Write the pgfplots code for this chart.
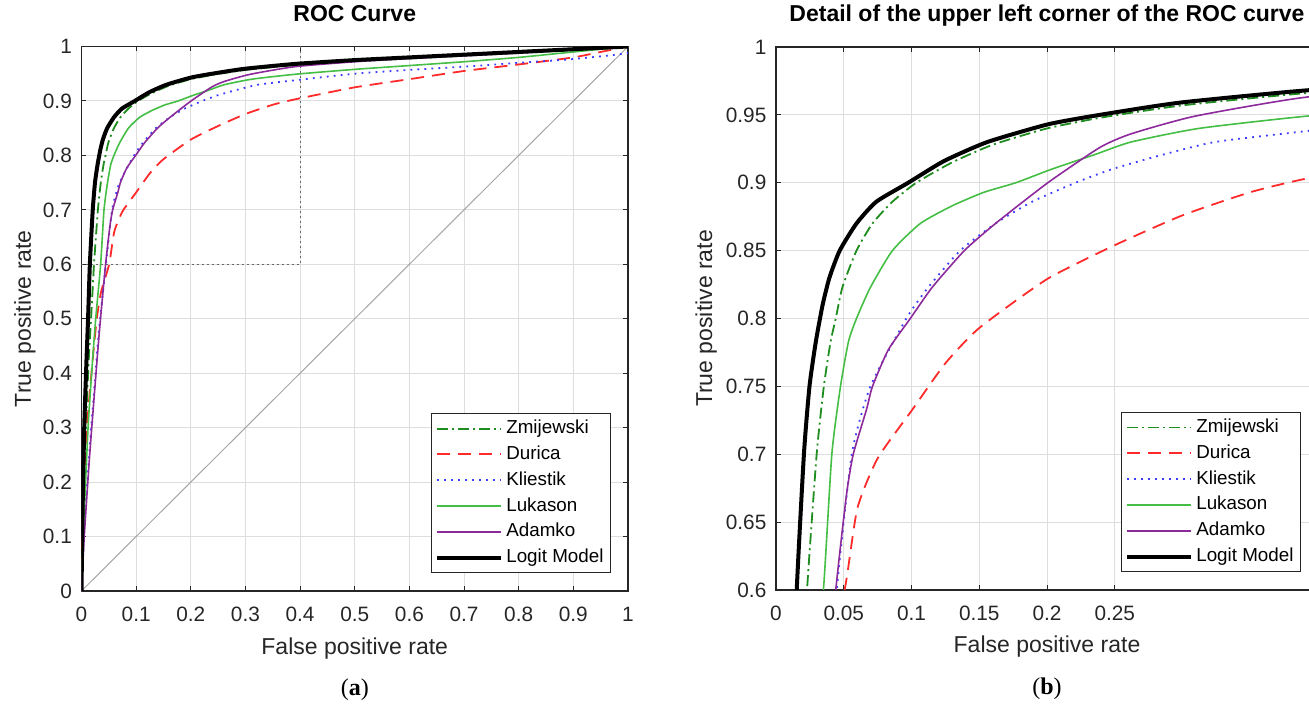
\documentclass[border=0pt]{standalone}
\usepackage{fontspec}
\setmainfont{Liberation Sans}
\newfontfamily\capfont{Liberation Serif}
\usepackage{pgfplots}
\pgfplotsset{compat=1.18}
\usepackage{pgfplotstable}

\definecolor{txt}{HTML}{262626}
\definecolor{gridc}{HTML}{DEDEDE}
\definecolor{cZmi}{HTML}{1E8C1E}
\definecolor{cDur}{HTML}{FF2A2A}
\definecolor{cKli}{HTML}{3C3CFF}
\definecolor{cLuk}{HTML}{45BE45}
\definecolor{cAda}{HTML}{8C2A9C}

\pgfplotstableread{
x y
0 0
0.003 0.15
0.008 0.30
0.013 0.42
0.0175 0.50
0.0229 0.60
0.030 0.70
0.0353 0.75
0.0403 0.783
0.0441 0.80
0.049 0.823
0.0594 0.85
0.0712 0.87
0.0859 0.886
0.1035 0.90
0.13 0.915
0.16 0.928
0.2 0.94
0.24 0.948
0.3 0.957
0.391 0.966
0.5 0.973
0.6 0.978
0.7 0.983
0.8 0.988
0.9 0.993
1 1
}\tZmi

\pgfplotstableread{
x y
0 0
0.003 0.15
0.010 0.30
0.020 0.42
0.028 0.50
0.036 0.55
0.0506 0.60
0.06 0.66
0.075 0.697
0.1 0.732
0.125 0.767
0.15 0.793
0.2 0.829
0.25 0.854
0.3 0.876
0.35 0.893
0.391 0.903
0.5 0.925
0.6 0.94
0.7 0.955
0.8 0.967
0.9 0.98
0.95 0.99
1 1
}\tDur

\pgfplotstableread{
x y
0 0
0.004 0.10
0.014 0.25
0.024 0.38
0.032 0.48
0.0447 0.60
0.0559 0.70
0.0697 0.75
0.0962 0.80
0.1124 0.823
0.1359 0.85
0.162 0.87
0.189 0.886
0.221 0.90
0.248 0.91
0.283 0.92
0.324 0.93
0.391 0.938
0.5 0.95
0.6 0.957
0.7 0.963
0.8 0.970
0.9 0.977
1 0.988
1 1
}\tKli

\pgfplotstableread{
x y
0 0
0.004 0.12
0.012 0.30
0.020 0.42
0.026 0.50
0.035 0.60
0.0412 0.70
0.0476 0.75
0.0535 0.783
0.0594 0.80
0.0697 0.823
0.0859 0.85
0.1065 0.87
0.13 0.883
0.1535 0.893
0.177 0.90
0.2035 0.91
0.236 0.921
0.262 0.93
0.312 0.94
0.391 0.949
0.5 0.958
0.6 0.965
0.7 0.972
0.8 0.98
0.9 0.99
1 1
}\tLuk

\pgfplotstableread{
x y
0 0
0.005 0.10
0.015 0.25
0.025 0.38
0.033 0.48
0.0441 0.60
0.052 0.67
0.057 0.70
0.0668 0.733
0.0712 0.75
0.0829 0.777
0.0991 0.80
0.1153 0.823
0.139 0.85
0.162 0.87
0.2006 0.90
0.239 0.926
0.262 0.936
0.309 0.949
0.391 0.963
0.5 0.972
0.6 0.978
0.7 0.983
0.8 0.988
0.9 0.994
1 1
}\tAda

\pgfplotstableread{
x y
0 0
0.002 0.15
0.005 0.30
0.009 0.42
0.012 0.50
0.0153 0.60
0.0206 0.70
0.0247 0.75
0.0294 0.783
0.0344 0.81
0.0394 0.83
0.047 0.85
0.0594 0.87
0.074 0.886
0.0976 0.90
0.124 0.916
0.156 0.93
0.2006 0.943
0.239 0.95
0.298 0.959
0.391 0.968
0.5 0.975
0.6 0.98
0.7 0.985
0.8 0.99
0.9 0.995
1 1
}\tLog

\pgfplotsset{
  rocstyle/.style={
    scale only axis,
    axis line style={draw=txt, line width=0.6pt},
    grid=major,
    major grid style={draw=gridc, line width=0.5pt},
    tick align=inside,
    major tick length=2.5pt,
    tick style={draw=txt, line width=0.5pt},
    ticklabel style={font=\fontsize{10.4}{12}\selectfont, text=txt},
    xticklabel style={yshift=-4.5pt},
    yticklabel style={xshift=-1.3pt},
    /pgf/number format/assume math mode=true,
    /pgf/number format/fixed,
    /pgf/number format/precision=2,
    xlabel style={font=\fontsize{11.5}{13}\selectfont, text=txt, anchor=base},
    ylabel style={font=\fontsize{11.5}{13}\selectfont, text=txt, anchor=base},
    title style={font=\bfseries\fontsize{11.5}{13}\selectfont, text=black, anchor=base},
    legend cell align=left,
    legend image code/.code={\draw[line cap=butt, ##1] (0pt,0pt) -- (32pt,0pt);\draw[line cap=butt, ##1] (0pt,0pt) -- (32pt,0pt);},
    legend style={
      at={(axis description cs:1,0)}, anchor=south east,
      xshift=-8.5pt, yshift=9pt,
      draw=black!85, line width=0.5pt, fill=white,
      font=\fontsize{9.4}{11}\selectfont,
      inner xsep=2pt, inner ysep=1pt,
      nodes={inner xsep=1.5pt, inner ysep=1.75pt, text height=7.2pt, text depth=2.2pt},
    },
    clip=true,
  },
  sZmi/.style={draw=cZmi, color=cZmi, line width=0.9pt, dash pattern=on 5.5pt off 2pt on 1pt off 2pt, smooth, tension=0.35},
  sDur/.style={draw=cDur, color=cDur, line width=0.9pt, dash pattern=on 6.5pt off 4pt, smooth, tension=0.35},
  sKli/.style={draw=cKli, color=cKli, line width=0.9pt, dash pattern=on 0.9pt off 2.6pt, smooth, tension=0.35},
  sLuk/.style={draw=cLuk, color=cLuk, line width=0.8pt, smooth, tension=0.35},
  sAda/.style={draw=cAda, color=cAda, line width=0.8pt, smooth, tension=0.35},
  sLgt/.style={draw=black, color=black, line width=2pt, smooth, tension=0.35},
}

\begin{document}
\begin{tikzpicture}
\useasboundingbox (0,0) rectangle (654.5pt,353pt);
\begin{axis}[rocstyle, name=A,
  at={(40.75pt,57.5pt)}, anchor=south west,
  width=273.25pt, height=272.25pt,
  xmin=0, xmax=1, ymin=0, ymax=1,
  xtick={0,0.1,0.2,0.3,0.4,0.5,0.6,0.7,0.8,0.9,1},
  ytick={0,0.1,0.2,0.3,0.4,0.5,0.6,0.7,0.8,0.9,1},
  title={ROC Curve},
  title style={at={(axis description cs:0.5,1.024)}},
  xlabel={False positive rate},
  xlabel style={at={(axis description cs:0.5,-0.1157)}},
  ylabel={True positive rate},
  ylabel style={at={(axis description cs:-0.0924,0.5)}},
]
\addplot[forget plot, color=black!35, line width=0.5pt] coordinates {(0,0) (1,1)};
\addplot[forget plot, color=black!60, line width=0.5pt, dash pattern=on 1pt off 1.5pt] coordinates {(0,0.6) (0.4,0.6) (0.4,1)};
\addplot[sZmi] table {\tZmi}; \addlegendentry{Zmijewski}
\addplot[sDur] table {\tDur}; \addlegendentry{Durica}
\addplot[sKli] table {\tKli}; \addlegendentry{Kliestik}
\addplot[sLuk] table {\tLuk}; \addlegendentry{Lukason}
\addplot[sAda] table {\tAda}; \addlegendentry{Adamko}
\addplot[sLgt] table {\tLog}; \addlegendentry{Logit Model}
\end{axis}
\node[font=\capfont\fontsize{12}{14}\selectfont, yshift=-49.5pt] at (A.south) {(\textbf{a})};

\begin{axis}[rocstyle, name=B,
  at={(388pt,58pt)}, anchor=south west,
  width=271pt, height=271.5pt,
  xmin=0, xmax=0.4, ymin=0.6, ymax=1,
  xtick={0,0.05,0.1,0.15,0.2,0.25},
  ytick={0.6,0.65,0.7,0.75,0.8,0.85,0.9,0.95,1},
  title={Detail of the upper left corner of the ROC curve},
  title style={at={(axis description cs:0.5,1.024)}},
  xlabel={False positive rate},
  xlabel style={at={(axis description cs:0.5,-0.116)}},
  ylabel={True positive rate},
  ylabel style={at={(axis description cs:-0.118,0.5)}},
]
\addplot[sZmi] table {\tZmi}; \addlegendentry{Zmijewski}
\addplot[sDur] table {\tDur}; \addlegendentry{Durica}
\addplot[sKli] table {\tKli}; \addlegendentry{Kliestik}
\addplot[sLuk] table {\tLuk}; \addlegendentry{Lukason}
\addplot[sAda] table {\tAda}; \addlegendentry{Adamko}
\addplot[sLgt] table {\tLog}; \addlegendentry{Logit Model}
\end{axis}
\node[font=\capfont\fontsize{12}{14}\selectfont, yshift=-49.5pt] at (B.south) {(\textbf{b})};
\end{tikzpicture}
\end{document}
